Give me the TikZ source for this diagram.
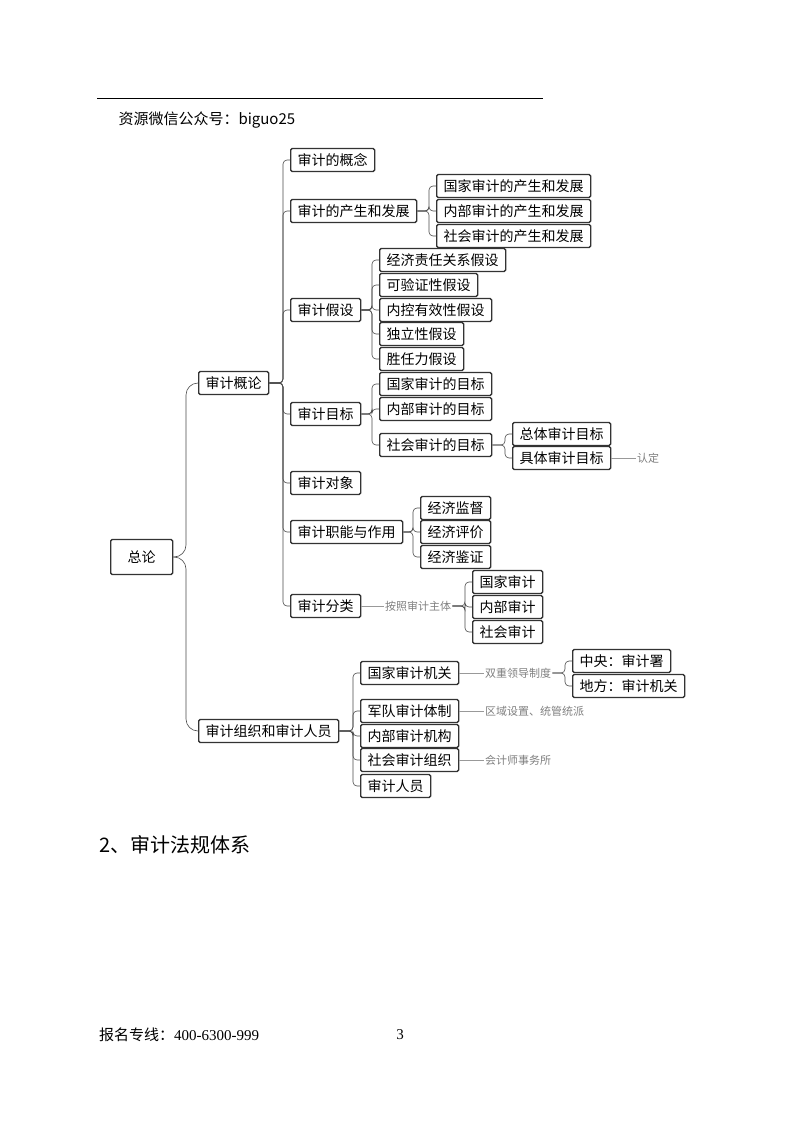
\documentclass[tikz,border=0pt]{standalone}
\usepackage{fontspec}
\setmainfont{Liberation Serif}
\newfontfamily\cjk{Noto Sans CJK SC}
\begin{document}
\begin{tikzpicture}[x=1pt,y=-1pt,
  box/.style={draw=black!80,line width=1.3pt,rounded corners=1.5pt,anchor=west,font=\cjk\fontsize{14}{15}\selectfont,inner xsep=7pt,inner ysep=0pt,minimum height=23pt,fill=white},
  conn/.style={draw=black!70,line width=0.6pt,rounded corners=4pt},
  note/.style={anchor=west,font=\cjk\fontsize{11}{12}\selectfont,text=black!50,inner sep=1pt},
  nconn/.style={draw=black!40,line width=0.5pt}]
\useasboundingbox (0,0) rectangle (800,1124);
\fill[white] (0,0) rectangle (800,1124);
\draw[line width=0.8pt] (97,98) -- (543,98);
\node[anchor=west,font=\cjk\fontsize{15}{16}\selectfont] (hdr) at (115,120) {资源微信公众号：biguo25};
% level 0/1
\node[box,minimum height=35pt,inner xsep=17pt] (zl) at (110,557) {总论};
\node[box] (gl) at (198,383) {审计概论};
\node[box] (zz) at (198,731) {审计组织和审计人员};
\draw[conn,rounded corners=12pt] (zl.east) -- (186,557) |- (gl.west);
\draw[conn,rounded corners=12pt] (zl.east) -- (186,557) |- (zz.west);
% level 2
\node[box] (a1) at (290,160) {审计的概念};
\node[box] (a2) at (290,211) {审计的产生和发展};
\node[box] (a3) at (290,310) {审计假设};
\node[box] (a4) at (290,414) {审计目标};
\node[box] (a5) at (290,483) {审计对象};
\node[box] (a6) at (290,532) {审计职能与作用};
\node[box] (a7) at (290,606) {审计分类};
\foreach \c in {a1,a2,a3,a4,a5,a6,a7}{\draw[conn] (gl.east) -- (283,383) |- (\c.west);}
% 产生和发展
\node[box] (b1) at (436,186) {国家审计的产生和发展};
\node[box] (b2) at (436,211) {内部审计的产生和发展};
\node[box] (b3) at (436,236) {社会审计的产生和发展};
\foreach \c in {b1,b2,b3}{\draw[conn] (a2.east) -- (429,211) |- (\c.west);}
% 假设
\node[box] (c1) at (379,260) {经济责任关系假设};
\node[box] (c2) at (379,285) {可验证性假设};
\node[box] (c3) at (379,310) {内控有效性假设};
\node[box] (c4) at (379,334) {独立性假设};
\node[box] (c5) at (379,359) {胜任力假设};
\foreach \c in {c1,c2,c3,c4,c5}{\draw[conn] (a3.east) -- (372,310) |- (\c.west);}
% 目标
\node[box] (d1) at (379,384) {国家审计的目标};
\node[box] (d2) at (379,409) {内部审计的目标};
\node[box] (d3) at (379,445) {社会审计的目标};
\foreach \c in {d1,d2,d3}{\draw[conn] (a4.east) -- (372,414) |- (\c.west);}
\node[box] (e1) at (512,434) {总体审计目标};
\node[box] (e2) at (512,458) {具体审计目标};
\foreach \c in {e1,e2}{\draw[conn] (d3.east) -- (505,445) |- (\c.west);}
\node[note] (n1) at (636,458) {认定};
\draw[nconn] (e2.east) -- (n1.west);
% 职能
\node[box] (f1) at (420,508) {经济监督};
\node[box] (f2) at (420,532) {经济评价};
\node[box] (f3) at (420,557) {经济鉴证};
\foreach \c in {f1,f2,f3}{\draw[conn] (a6.east) -- (413,532) |- (\c.west);}
% 分类
\node[note] (n2) at (384,606) {按照审计主体};
\draw[nconn] (a7.east) -- (n2.west);
\node[box] (g1) at (472,582) {国家审计};
\node[box] (g2) at (472,607) {内部审计};
\node[box] (g3) at (472,632) {社会审计};
\foreach \c in {g1,g2,g3}{\draw[conn] (n2.east) -- (465,606) |- (\c.west);}
% 组织
\node[box] (h1) at (360,673) {国家审计机关};
\node[box] (h2) at (360,711) {军队审计体制};
\node[box] (h3) at (360,736) {内部审计机构};
\node[box] (h4) at (360,760) {社会审计组织};
\node[box] (h5) at (360,786) {审计人员};
\foreach \c in {h1,h2,h3,h4,h5}{\draw[conn] (zz.east) -- (353,731) |- (\c.west);}
\node[note] (n3) at (484,673) {双重领导制度};
\draw[nconn] (h1.east) -- (n3.west);
\node[box] (i1) at (572,661) {中央：审计署};
\node[box] (i2) at (572,686) {地方：审计机关};
\foreach \c in {i1,i2}{\draw[conn] (n3.east) -- (565,673) |- (\c.west);}
\node[note] (n4) at (484,711) {区域设置、统管统派};
\draw[nconn] (h2.east) -- (n4.west);
\node[note] (n5) at (484,760) {会计师事务所};
\draw[nconn] (h4.east) -- (n5.west);
% text
\node[anchor=west,font=\cjk\fontsize{20}{22}\selectfont,inner sep=0pt] (t2) at (99,845) {2、审计法规体系};
\node[anchor=west,font=\cjk\fontsize{15}{16}\selectfont,inner sep=0pt] (ft) at (99,1035) {报名专线：\rmfamily 400-6300-999};
\node[font=\fontsize{15}{16}\selectfont] (pg) at (400,1035) {3};
\end{tikzpicture}
\end{document}
